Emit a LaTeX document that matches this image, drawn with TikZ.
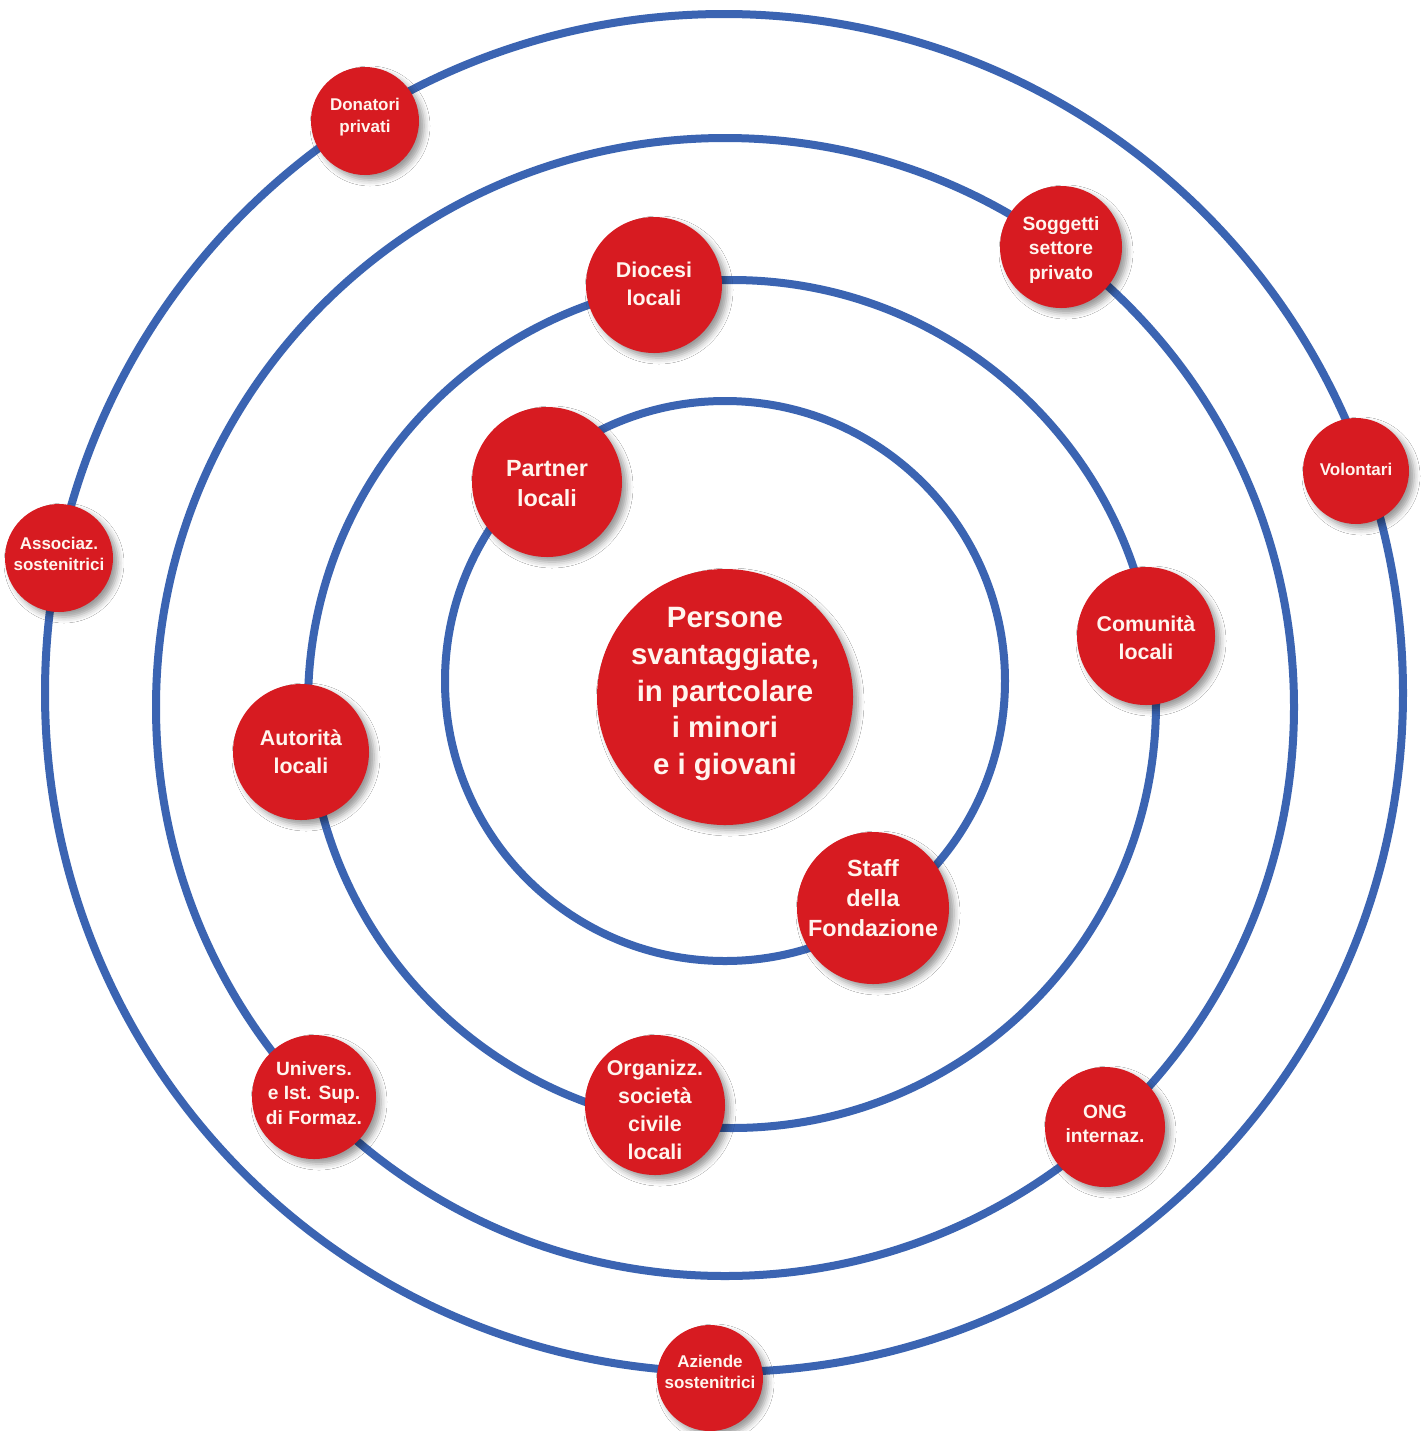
\documentclass[tikz,border=0pt]{standalone}
\usepackage{fontspec}
\setmainfont{Liberation Sans}
\usetikzlibrary{shadows.blur}
\definecolor{orbitblue}{RGB}{59,100,178}
\definecolor{actorred}{RGB}{215,27,33}
\definecolor{actortext}{RGB}{255,245,238}
\tikzset{
  orbit/.style={draw=orbitblue, line width=4pt},
  actor/.style={circle, fill=actorred, inner sep=0pt, minimum size=#1,
    blur shadow={shadow xshift=2.5pt, shadow yshift=-2.5pt, shadow blur radius=3pt, shadow opacity=40}},
  lab/.style={text=actortext, align=center, inner sep=0pt},
  fA/.style={lab, font=\bfseries\fontsize{14.7pt}{18.4pt}\selectfont},
  fB/.style={lab, font=\bfseries\fontsize{11.7pt}{15pt}\selectfont},
  fC/.style={lab, font=\bfseries\fontsize{10.7pt}{14pt}\selectfont},
  fD/.style={lab, font=\bfseries\fontsize{9.6pt}{12.3pt}\selectfont},
  fE/.style={lab, font=\bfseries\fontsize{8.5pt}{10.6pt}\selectfont},
}
\begin{document}
\begin{tikzpicture}[x=0.5pt, y=-0.5pt]
\useasboundingbox (0,0) rectangle (1425,1431);
\fill[white] (0,0) rectangle (1425,1431);
% orbit centres
\coordinate (o1) at (724,693);
\coordinate (o2) at (725,707);
\coordinate (o3) at (732,704);
\coordinate (o4) at (725,681);
\draw[orbit] (o1) circle[radius=679];
\draw[orbit] (o2) circle[radius=569];
\draw[orbit] (o3) circle[radius=424];
\draw[orbit] (o4) circle[radius=280];
% nodes
\node[actor=128pt] (center) at (725,697) {};
\node[fA] (center-t) at (725,694) {Persone\\svantaggiate,\\in partcolare\\i minori\\e i giovani};

\node[actor=75pt] (partner) at (547,482) {};
\node[fB] (partner-t) at (547,484) {Partner\\locali};
\node[actor=76pt] (staff) at (873,908) {};
\node[fB] (staff-t) at (873,898) {Staff\\della\\Fondazione};

\node[actor=68pt] (diocesi) at (654,285) {};
\node[fC] (diocesi-t) at (654,284) {Diocesi\\locali};
\node[actor=69pt] (comunita) at (1146,636) {};
\node[fC] (comunita-t) at (1146,638) {Comunità\\locali};
\node[actor=68pt] (autorita) at (301,752) {};
\node[fC] (autorita-t) at (301,752) {Autorità\\locali};
\node[actor=70pt] (organizz) at (655,1105) {};
\node[fC] (organizz-t) at (655,1110) {Organizz.\\società\\civile\\locali};

\node[actor=61pt] (soggetti) at (1061,247) {};
\node[fD] (soggetti-t) at (1061,250) {Soggetti\\settore\\privato};
\node[actor=62pt] (univers) at (314,1097) {};
\node[fD] (univers-t) at (314,1093) {Univers.\\e Ist. Sup.\\di Formaz.};
\node[actor=60pt] (ong) at (1105,1127) {};
\node[fD] (ong-t) at (1105,1124) {ONG\\internaz.};

\node[actor=54pt] (donatori) at (365,121) {};
\node[fE] (donatori-t) at (365,117) {Donatori\\privati};
\node[actor=54pt] (associaz) at (59,558) {};
\node[fE] (associaz-t) at (59,554) {Associaz.\\sostenitrici};
\node[actor=53pt] (volontari) at (1356,471) {};
\node[fE] (volontari-t) at (1356,469) {Volontari};
\node[actor=53pt] (aziende) at (710,1378) {};
\node[fE] (aziende-t) at (710,1372) {Aziende\\sostenitrici};
\end{tikzpicture}
\end{document}
